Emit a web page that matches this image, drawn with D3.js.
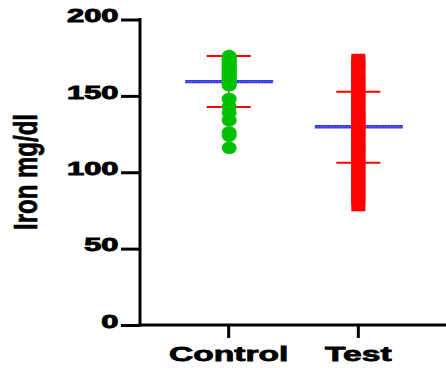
<!DOCTYPE html>
<html>
<head>
<meta charset="utf-8">
<script src="https://cdn.jsdelivr.net/npm/d3@7"></script>
<style>
  body { margin: 0; background: #fff; }
  svg { display: block; }
  text { font-family: "Liberation Sans", Arial, sans-serif; font-weight: bold; fill: #000; }
</style>
</head>
<body>
<svg id="chart" width="446" height="368"></svg>
<script>
// groups on the x axis
var groups = ['Control', 'Test']
var yTicks = [0, 50, 100, 150, 200]

// individual values
var controlVals = [176, 175, 174, 173, 172, 171, 170, 169, 168, 167, 166, 165, 164, 163,
                   162, 161, 160, 159, 158, 157, 148, 143, 139, 134, 126, 124, 116]
var testVals = [173, 171, 168, 163, 160, 158, 154, 151, 149, 145, 142, 139, 136, 133, 131,
                128, 126, 122, 119, 117, 114, 110, 108, 105, 101, 99, 96, 92, 89, 86, 83, 79]

// mean and mean +/- SD per group
var means = [159.3, 129.8]
var sdHigh = [176.1, 152.7]
var sdLow = [142.7, 106.3]

var svg = d3.select('#chart')

var x = d3.scalePoint().domain(groups).range([140, 446]).padding(0.68)
var y = d3.scaleLinear().domain([0, 200]).range([325, 19.5])

// error bars (behind points)
var stats = groups.map(function (g, i) {
    return {g: g, mean: means[i], hi: sdHigh[i], lo: sdLow[i]}
})

var eb = svg.append('g')
eb.selectAll('line.v').data(stats).enter().append('line')
    .attr('x1', function (d) { return x(d.g) + 0.5 })
    .attr('x2', function (d) { return x(d.g) + 0.5 })
    .attr('y1', function (d) { return y(d.hi) })
    .attr('y2', function (d) { return y(d.lo) })
    .attr('stroke', '#e02000').attr('stroke-width', 1.5)

eb.selectAll('line.hi').data(stats).enter().append('line')
    .attr('x1', function (d) { return x(d.g) - 21.5 })
    .attr('x2', function (d) { return x(d.g) + 22.5 })
    .attr('y1', function (d) { return y(d.hi) })
    .attr('y2', function (d) { return y(d.hi) })
    .attr('stroke', '#ff0000').attr('stroke-width', 2)

eb.selectAll('line.lo').data(stats).enter().append('line')
    .attr('x1', function (d) { return x(d.g) - 21.5 })
    .attr('x2', function (d) { return x(d.g) + 22.5 })
    .attr('y1', function (d) { return y(d.lo) })
    .attr('y2', function (d) { return y(d.lo) })
    .attr('stroke', '#ff0000').attr('stroke-width', 2)

// mean lines
eb.selectAll('line.mean').data(stats).enter().append('line')
    .attr('x1', function (d) { return x(d.g) - 43 })
    .attr('x2', function (d) { return x(d.g) + 45 })
    .attr('y1', function (d) { return y(d.mean) })
    .attr('y2', function (d) { return y(d.mean) })
    .attr('stroke', '#3a3aee').attr('stroke-width', 3.3)
eb.selectAll('line.meandot').data(stats).enter().append('line')
    .attr('x1', function (d) { return x(d.g) - 43 })
    .attr('x2', function (d) { return x(d.g) + 45 })
    .attr('y1', function (d) { return y(d.mean) })
    .attr('y2', function (d) { return y(d.mean) })
    .attr('stroke', '#8080ff').attr('stroke-width', 1)
    .attr('stroke-dasharray', '1,2')

// control points: green ellipses
svg.append('g').selectAll('ellipse').data(controlVals).enter().append('ellipse')
    .attr('cx', x('Control') + 1)
    .attr('cy', function (d) { return y(d) })
    .attr('rx', 7.5).attr('ry', 6.3)
    .attr('fill', '#00c000')

// test points: red squares
svg.append('g').selectAll('rect').data(testVals).enter().append('rect')
    .attr('x', x('Test') - 6.5)
    .attr('y', function (d) { return y(d) - 7 })
    .attr('width', 14).attr('height', 14)
    .attr('fill', '#ff0000')

// y axis
var yAxis = svg.append('g')
    .attr('transform', 'translate(140,0)')
    .call(d3.axisLeft(y).tickValues(yTicks).tickSize(19).tickSizeOuter(0).tickPadding(0))
yAxis.select('.domain').attr('stroke-width', 3).attr('stroke', '#000')
    .attr('d', 'M0,' + (y(0) + 1.5) + 'V' + (y(200) - 1.5))
yAxis.selectAll('.tick line').attr('stroke-width', 3).attr('stroke', '#000')
yAxis.selectAll('.tick text')
    .attr('font-size', 18.5)
    .attr('font-family', '"Liberation Sans", Arial, sans-serif')
    .attr('font-weight', 'bold')
    .attr('stroke', '#000').attr('stroke-width', 0.9)
    .attr('x', -21.5 / 1.67)
    .attr('dy', '0.12em')
    .attr('transform', 'scale(1.67,1)')

// x axis
var xAxis = svg.append('g')
    .attr('transform', 'translate(0,' + y(0) + ')')
    .call(d3.axisBottom(x).tickSize(13).tickSizeOuter(0).tickPadding(0))
xAxis.select('.domain').attr('stroke-width', 3).attr('stroke', '#000')
    .attr('d', 'M138.5,0H446')
xAxis.selectAll('.tick line').attr('stroke-width', 3).attr('stroke', '#000')
xAxis.selectAll('.tick text')
    .attr('font-size', 21)
    .attr('font-family', '"Liberation Sans", Arial, sans-serif')
    .attr('font-weight', 'bold')
    .attr('stroke', '#000').attr('stroke-width', 0.8)
    .attr('y', 36).attr('dy', 0)
    .attr('transform', function () {
        var t = d3.select(this.parentNode).attr('transform')
        var cx = +t.match(/translate\(([-\d.]+)/)[1]
        return 'translate(' + (-cx * 0.6) + ',0) scale(1.6,1)'
    })
    .attr('x', function () {
        var t = d3.select(this.parentNode).attr('transform')
        var cx = +t.match(/translate\(([-\d.]+)/)[1]
        return cx * 0.6 / 1.6
    })

// y label
svg.append('text')
    .attr('transform', 'translate(37,172) scale(1.4,1) rotate(-90)')
    .attr('text-anchor', 'middle')
    .attr('font-size', 24)
    .attr('stroke', '#000').attr('stroke-width', 0.5)
    .text('Iron mg/dl')
</script>
</body>
</html>
